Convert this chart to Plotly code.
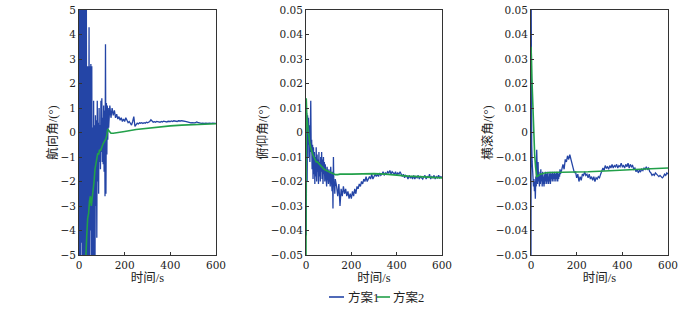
import plotly.graph_objects as go

# ---------------- data ----------------
# Heading (航向角)
HEAD_B_T = list(range(0, 131, 2)) + list(range(135, 601, 5))
HEAD_B_V = [6, -7, 8, -6, 7, -4.5, 8, -7, 6, -8, 7, -6, 8, -7, 6, -6, 7, -8,
            2.7, -6, 2.7, -5.5, 4.3, -6, 2.7, -4, 2.8, -6, 2.7, -7, 0.2, -6,
            1.3, -5, 0.3, -6, 0.7, -3, 0.5, -4.3, 1.3, -2, 0.4, -2.5, 1.0, -1.2,
            0.3, -1.5, 1.3, -0.8, 1.4, -1.2, 0.6, -1.3, 1.1, -1.6, 0.9, -2.6,
            3.6, -2.5, 1.2, -0.9, 1.1, -0.3, 1.0, 0.2,
            1.1, 0.6, 1.0, 0.7, 0.9, 0.6, 0.75, 0.55, 0.65, 0.5, 0.6, 0.45, 0.55,
            0.45, 0.6, 0.5, 0.4, 0.45, 0.35, 0.3, 0.45, 0.65, 0.25, 0.35, 0.38,
            0.35, 0.4, 0.38, 0.4, 0.37, 0.4, 0.38, 0.42, 0.4, 0.43, 0.45, 0.52,
            0.45, 0.42, 0.44, 0.42, 0.45, 0.43, 0.44, 0.42, 0.45, 0.43, 0.46,
            0.44, 0.45, 0.43, 0.46, 0.44, 0.45, 0.47, 0.45, 0.48, 0.46, 0.47,
            0.45, 0.48, 0.46, 0.47, 0.48, 0.46, 0.47, 0.45, 0.44, 0.42, 0.41,
            0.4, 0.39, 0.4, 0.38, 0.39, 0.4, 0.43, 0.41, 0.39, 0.38, 0.37, 0.38,
            0.36, 0.37, 0.38, 0.36, 0.37, 0.38, 0.36, 0.37, 0.38, 0.37, 0.38, 0.37]
HEAD_G_T = [26, 30, 34, 38, 42, 46, 50, 54, 58, 62, 66, 70, 74, 78, 82, 86, 90,
            94, 98, 102, 106, 110, 114, 118, 122, 126, 130, 135, 140, 150, 175,
            200, 250, 300, 350, 400, 450, 500, 550, 600]
HEAD_G_V = [-6.0, -4.8, -4.2, -3.5, -3.3, -2.8, -2.6, -3.0, -2.7, -2.3, -2.0,
            -1.5, -1.2, -1.0, -0.85, -0.9, -0.7, -0.75, -0.6, -0.55, -0.45, -0.4,
            -0.3, -0.25, -0.1, 0.15, 0.08, 0.02, -0.03, -0.03, -0.01, 0.04, 0.12,
            0.18, 0.23, 0.27, 0.3, 0.32, 0.34, 0.36]

# Pitch (俯仰角)
PITCH_B_T = [1, 2] + list(range(3, 130, 2)) + list(range(135, 601, 5))
PITCH_B_V = [-0.042, 0.005, 0.008, -0.02, 0.007, -0.005, 0.006, -0.01, 0.003,
             -0.012, 0.0, 0.013, -0.008, -0.003, -0.015, -0.005, -0.019, -0.006,
             -0.017, -0.008, -0.021, -0.01, -0.018, -0.006, -0.02, -0.009,
             -0.016, -0.011, -0.021, -0.008, -0.018, -0.012, -0.02, -0.01,
             -0.016, -0.008, -0.019, -0.011, -0.021, -0.01, -0.017, -0.012,
             -0.02, -0.013, -0.018, -0.015, -0.022, -0.014, -0.019, -0.016,
             -0.021, -0.015, -0.02, -0.017, -0.022, -0.014, -0.02, -0.018,
             -0.024, -0.016, -0.031, -0.01, -0.022, -0.02, -0.025, -0.019,
             -0.022, -0.026, -0.021, -0.03, -0.023, -0.026, -0.022, -0.025,
             -0.023, -0.026, -0.024, -0.027, -0.025, -0.027, -0.024, -0.026,
             -0.023, -0.025, -0.022, -0.023, -0.021, -0.022, -0.02, -0.021,
             -0.019, -0.02, -0.018, -0.02, -0.019, -0.018, -0.019, -0.017,
             -0.019, -0.018, -0.017, -0.018, -0.017, -0.018, -0.0165, -0.0175,
             -0.017, -0.016, -0.0175, -0.0165, -0.017, -0.016, -0.0165, -0.0155,
             -0.017, -0.016, -0.0165, -0.017, -0.016, -0.0175, -0.0165, -0.017,
             -0.016, -0.0175, -0.018, -0.017, -0.0185, -0.0175, -0.018, -0.019,
             -0.0175, -0.0185, -0.018, -0.019, -0.0175, -0.019, -0.018, -0.0185,
             -0.0175, -0.019, -0.018, -0.0185, -0.019, -0.018, -0.0175, -0.019,
             -0.018, -0.0185, -0.017, -0.019, -0.018, -0.0185, -0.0175, -0.019,
             -0.018, -0.0185, -0.0175, -0.0185, -0.018, -0.0185]
PITCH_G_T = [0, 1, 2, 4, 6, 8, 10, 13, 16, 20, 25, 30, 35, 40, 45, 50, 60, 70,
             80, 90, 100, 110, 120, 130, 140, 150, 200, 250, 300, 350, 400, 450,
             500, 550, 600]
PITCH_G_V = [-0.05, 0.014, 0.01, 0.006, 0.004, 0.002, 0.0, -0.002, -0.004,
             -0.006, -0.008, -0.009, -0.01, -0.011, -0.012, -0.012, -0.013,
             -0.014, -0.015, -0.0155, -0.016, -0.0165, -0.017, -0.0172, -0.0172,
             -0.017, -0.017, -0.0168, -0.0168, -0.017, -0.0175, -0.0178, -0.018,
             -0.0182, -0.0185]

# Roll (横滚角)
ROLL_B_T = [0, 1, 2] + list(range(3, 130, 2)) + list(range(135, 601, 5))
ROLL_B_V = [-0.05, 0.05, 0.02, -0.005, -0.012, -0.018, -0.015, -0.022, -0.019,
            -0.024, -0.02, -0.027, -0.018, -0.022, -0.007, -0.016, -0.021,
            -0.012, -0.02, -0.016, -0.022, -0.017, -0.021, -0.015, -0.02,
            -0.017, -0.022, -0.016, -0.021, -0.018, -0.022, -0.017, -0.021,
            -0.016, -0.02, -0.017, -0.021, -0.016, -0.02, -0.018, -0.021,
            -0.016, -0.02, -0.017, -0.021, -0.016, -0.019, -0.017, -0.02,
            -0.016, -0.019, -0.017, -0.02, -0.016, -0.019, -0.017, -0.02,
            -0.016, -0.019, -0.016, -0.02, -0.017, -0.019, -0.016, -0.018,
            -0.015, -0.017,
            -0.015, -0.013, -0.015, -0.011, -0.012, -0.0095, -0.011, -0.009,
            -0.011, -0.0125, -0.014, -0.0165, -0.016, -0.0185, -0.017, -0.02,
            -0.018, -0.0195, -0.017, -0.0175, -0.016, -0.0175, -0.017, -0.0185,
            -0.017, -0.019, -0.018, -0.0195, -0.018, -0.02, -0.0185, -0.019,
            -0.018, -0.0185, -0.017, -0.016, -0.0145, -0.0155, -0.0135, -0.0145,
            -0.014, -0.015, -0.0135, -0.0145, -0.013, -0.0145, -0.0135, -0.014,
            -0.013, -0.0145, -0.0135, -0.014, -0.0125, -0.014, -0.0135, -0.0145,
            -0.013, -0.014, -0.0125, -0.0145, -0.013, -0.014, -0.0135, -0.015,
            -0.0145, -0.016, -0.015, -0.0165, -0.0155, -0.016, -0.015, -0.0155,
            -0.0145, -0.015, -0.014, -0.015, -0.0145, -0.016, -0.0165, -0.0175,
            -0.017, -0.0175, -0.0165, -0.017, -0.0175, -0.018, -0.0175, -0.018,
            -0.0185, -0.018, -0.017, -0.0175, -0.0165, -0.017]
ROLL_G_T = [0, 1, 2, 4, 6, 8, 10, 13, 16, 20, 25, 30, 35, 40, 50, 60, 80, 100,
            150, 200, 250, 300, 350, 400, 450, 500, 550, 600]
ROLL_G_V = [0.035, 0.034, 0.03, 0.022, 0.015, 0.008, 0.002, -0.004, -0.009,
            -0.014, -0.018, -0.0178, -0.0175, -0.017, -0.0168, -0.0165, -0.0163,
            -0.0163, -0.0162, -0.016, -0.016, -0.0158, -0.0155, -0.0152, -0.015,
            -0.0149, -0.0147, -0.0145]

SERIES_NAMES = ["方案1", "方案2"]
Y_TITLES = ["航向角/(°)", "俯仰角/(°)", "横滚角/(°)"]
X_TITLE = "时间/s"
X_TICKS = [0, 200, 400, 600]
HEAD_TICKS = [5, 4, 3, 2, 1, 0, -1, -2, -3, -4, -5]
SMALL_TICKS = [0.05, 0.04, 0.03, 0.02, 0.01, 0, -0.01, -0.02, -0.03, -0.04, -0.05]
SMALL_TICK_TEXT = ["0.05", "0.04", "0.03", "0.02", "0.01", "0", "−0.01", "−0.02",
                   "−0.03", "−0.04", "−0.05"]
HEAD_TICK_TEXT = ["5", "4", "3", "2", "1", "0", "−1", "−2", "−3", "−4", "−5"]

BLUE = "#2445a6"
GREEN = "#22a04a"
COLORS = [BLUE, GREEN]
NUM_FONT = "DejaVu Serif"
FONT = "Liberation Serif, Noto Sans CJK SC, serif"

fig = go.Figure()
panels = [
    (HEAD_B_T, HEAD_B_V, HEAD_G_T, HEAD_G_V),
    (PITCH_B_T, PITCH_B_V, PITCH_G_T, PITCH_G_V),
    (ROLL_B_T, ROLL_B_V, ROLL_G_T, ROLL_G_V),
]
for i, (bt, bv, gt, gv) in enumerate(panels):
    xa = "x" if i == 0 else f"x{i+1}"
    ya = "y" if i == 0 else f"y{i+1}"
    fig.add_trace(go.Scatter(x=bt, y=bv, mode="lines", name=SERIES_NAMES[0],
                             line=dict(color=BLUE, width=1.3), xaxis=xa, yaxis=ya,
                             showlegend=False))
    fig.add_trace(go.Scatter(x=gt, y=gv, mode="lines", name=SERIES_NAMES[1],
                             line=dict(color=GREEN, width=1.6), xaxis=xa, yaxis=ya,
                             showlegend=False))

# compact legend (short line swatches + labels), in paper coordinates
LEG_Y = 1 - 297 / 313
leg_items = [(329 / 700, 344 / 700, 346 / 700), (377 / 700, 390 / 700, 391 / 700)]
for k, (x0, x1, xt) in enumerate(leg_items):
    fig.add_shape(type="line", xref="paper", yref="paper", x0=x0, x1=x1,
                  y0=LEG_Y, y1=LEG_Y, line=dict(color=COLORS[k], width=1.6))
    fig.add_annotation(xref="paper", yref="paper", x=xt, y=LEG_Y, xanchor="left",
                       yanchor="middle", text=SERIES_NAMES[k], showarrow=False,
                       font=dict(family=FONT, size=12.5, color="#222"))

x_domains = [[79 / 700, 216 / 700], [306 / 700, 442 / 700], [531 / 700, 668 / 700]]
y_domain = [1 - 255 / 313, 1 - 10 / 313]
axis_common = dict(showline=True, linecolor="#333", linewidth=1, mirror=True,
                   ticks="inside", ticklen=3, tickcolor="#333", showgrid=False,
                   zeroline=False, automargin=False,
                   tickfont=dict(family=NUM_FONT, size=10.5, color="#222"))
layout = dict(width=700, height=313, margin=dict(l=0, r=0, t=0, b=0, autoexpand=False),
              plot_bgcolor="white", paper_bgcolor="white",
              font=dict(family=FONT, size=12, color="#222"),
              showlegend=False)
for i in range(3):
    suf = "" if i == 0 else str(i + 1)
    layout["xaxis" + suf] = dict(domain=x_domains[i], range=[0, 600],
                                 tickvals=X_TICKS, anchor="y" + suf,
                                 title=dict(text=X_TITLE, standoff=2,
                                            font=dict(family=FONT, size=12.5)),
                                 **axis_common)
    if i == 0:
        yr, tv, tt = [-5, 5], HEAD_TICKS, HEAD_TICK_TEXT
    else:
        yr, tv, tt = [-0.05, 0.05], SMALL_TICKS, SMALL_TICK_TEXT
    layout["yaxis" + suf] = dict(domain=y_domain, range=yr, tickvals=tv, ticktext=tt,
                                 anchor="x" + suf,
                                 title=dict(text=Y_TITLES[i], standoff=0,
                                            font=dict(family=FONT, size=12.5)),
                                 **axis_common)
fig.update_layout(**layout)
fig.write_html("out.html", post_script="document.body.style.margin='0';",
               config={"displayModeBar": False})
